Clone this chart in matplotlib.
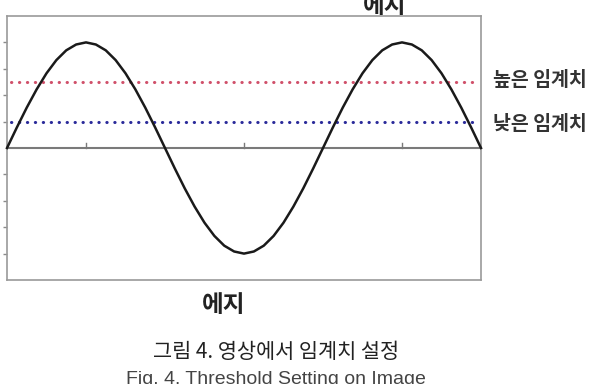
import matplotlib
matplotlib.use("Agg")
import matplotlib.pyplot as plt
from matplotlib import font_manager

plt.rcParams['font.family'] = ['Noto Sans CJK KR', 'DejaVu Sans']

# Data
x_vals = [0, 0.125, 0.25, 0.375, 0.5, 0.625, 0.75, 0.875, 1,
          1.125, 1.25, 1.375, 1.5, 1.625, 1.75, 1.875, 2,
          2.125, 2.25, 2.375, 2.5, 2.625, 2.75, 2.875, 3,
          3.125, 3.25, 3.375, 3.5, 3.625, 3.75, 3.875, 4,
          4.125, 4.25, 4.375, 4.5, 4.625, 4.75, 4.875, 5,
          5.125, 5.25, 5.375, 5.5, 5.625, 5.75, 5.875, 6]
signal = [0, 0.78, 1.53, 2.22, 2.83, 3.33, 3.70, 3.92, 4,
          3.92, 3.70, 3.33, 2.83, 2.22, 1.53, 0.78, 0,
          -0.78, -1.53, -2.22, -2.83, -3.33, -3.70, -3.92, -4,
          -3.92, -3.70, -3.33, -2.83, -2.22, -1.53, -0.78, 0,
          0.78, 1.53, 2.22, 2.83, 3.33, 3.70, 3.92, 4,
          3.92, 3.70, 3.33, 2.83, 2.22, 1.53, 0.78, 0]
high_threshold = 2.5
low_threshold = 1.0
x_ticks = [1, 3, 5]
y_ticks = [-4, -3, -2, -1, 1, 2, 3, 4]
labels_right = ['높은 임계치', '낮은 임계치']
edge_label = '에지'
caption_ko = '그림 4. 영상에서 임계치 설정'
caption_en = 'Fig. 4. Threshold Setting on Image'

names = {f.name for f in font_manager.fontManager.ttflist}
en_family = ['Liberation Sans Narrow'] if 'Liberation Sans Narrow' in names else ['Liberation Sans']

W, H = 598, 384
fig = plt.figure(figsize=(W / 100, H / 100), dpi=100)
ax = fig.add_axes([7 / W, 1 - 280 / H, (481 - 7) / W, (280 - 16) / H])
ax.set_xlim(0, 6)
ax.set_ylim(-5, 5)

for s in ax.spines.values():
    s.set_color('#9a9a9a')
    s.set_linewidth(1.2)

ax.axhline(0, color='#7a7a7a', lw=1.5, zorder=1)
for xt in x_ticks:
    ax.plot([xt, xt], [0, 0.18], color='#7a7a7a', lw=1.0, zorder=1)
ax.set_xticks([])
ax.set_yticks(y_ticks)
ax.set_yticklabels([])
ax.tick_params(axis='y', direction='out', length=3, width=1.0, color='#8a8a8a')

ax.hlines(high_threshold, 0.05, 5.93, color='#d0506a', lw=2.2,
          linestyles=(0, (0.1, 2.5)), capstyle='round', zorder=2)
ax.hlines(low_threshold, 0.05, 5.93, color='#2a2a9a', lw=2.2,
          linestyles=(0, (0.1, 2.5)), capstyle='round', zorder=2)
ax.plot(x_vals, signal, color='#1a1a1a', lw=1.8, zorder=3, clip_on=False,
        solid_joinstyle='round')

# Right labels
fig.text(493 / W, 1 - 80 / H, labels_right[0], fontsize=14, color='#333333',
         va='center', ha='left', fontweight='bold')
fig.text(493 / W, 1 - 124 / H, labels_right[1], fontsize=14, color='#333333',
         va='center', ha='left', fontweight='bold')

# Edge labels
fig.text(385 / W, 1 - 13 / H, edge_label, fontsize=17, color='#222222',
         va='baseline', ha='center', fontweight='bold')
fig.text(224 / W, 1 - 305 / H, edge_label, fontsize=17, color='#222222',
         va='center', ha='center', fontweight='bold')

# Captions
fig.text(276 / W, 1 - 352 / H, caption_ko, fontsize=15, color='#222222',
         va='center', ha='center')
fig.text(276 / W, 1 - 379 / H, caption_en, fontsize=14, color='#444444',
         va='center', ha='center', family=en_family)

fig.savefig('out.png', dpi=100)
